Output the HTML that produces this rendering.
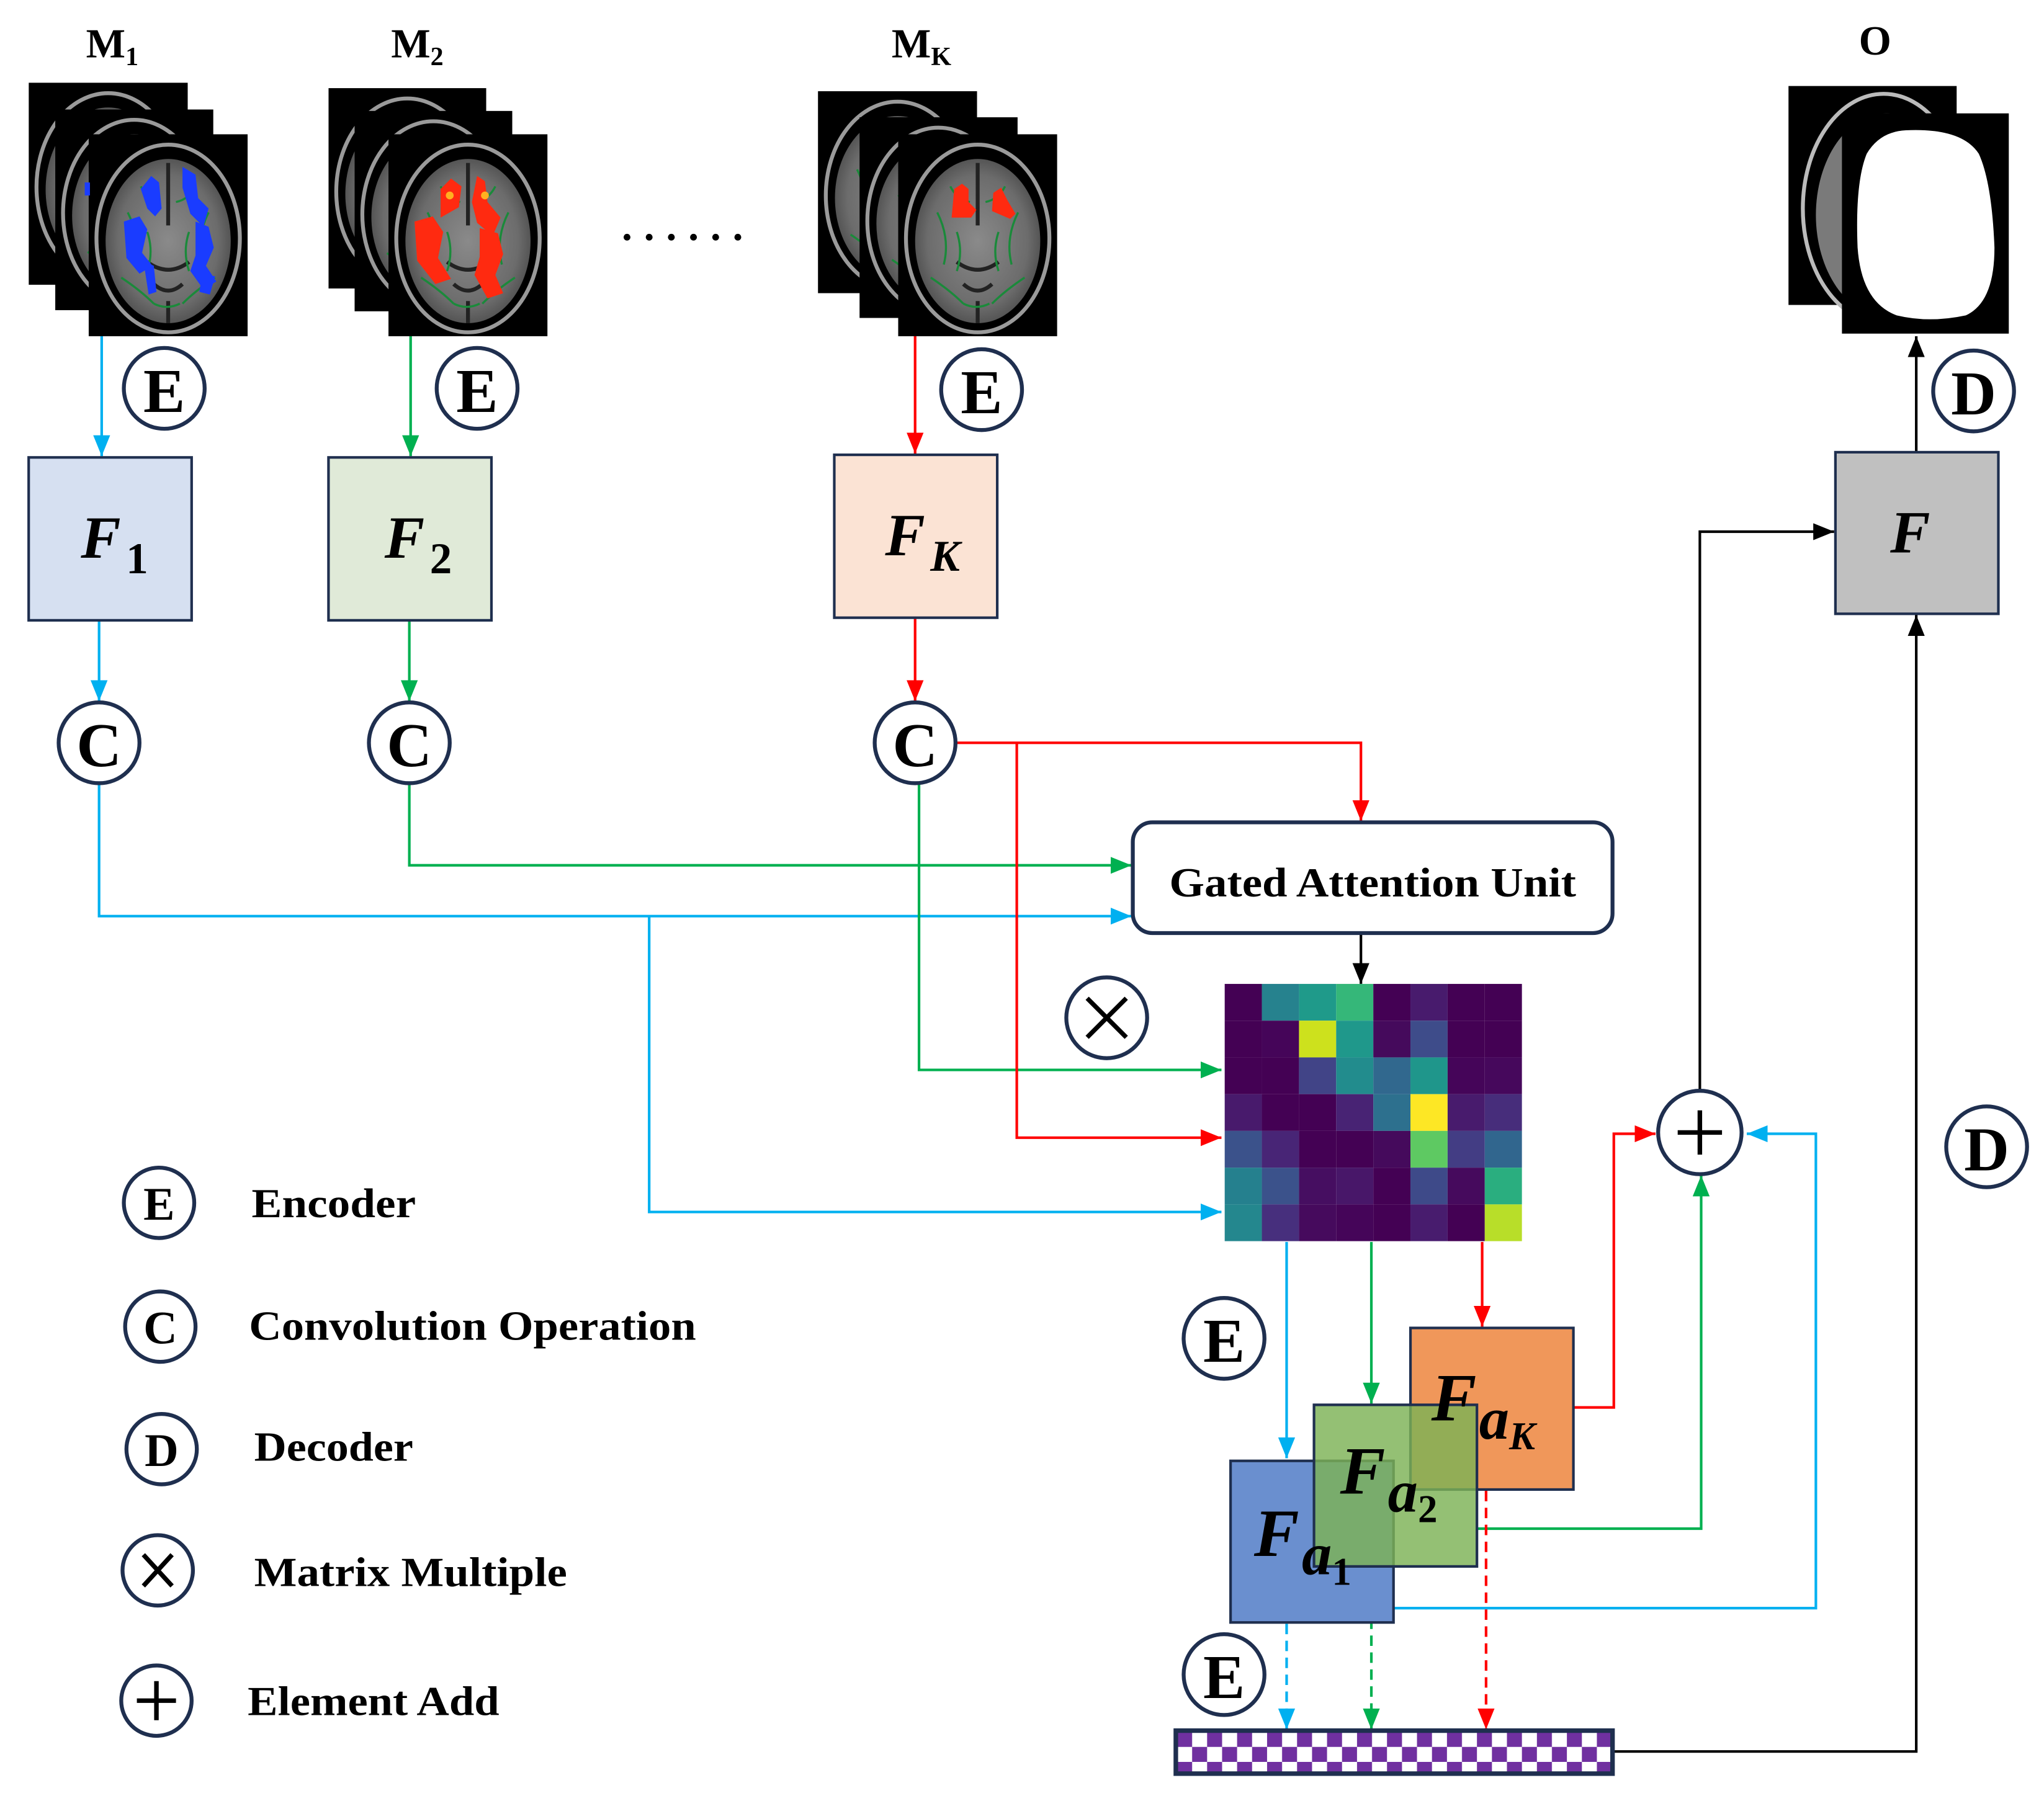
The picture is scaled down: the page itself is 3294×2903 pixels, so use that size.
<!DOCTYPE html>
<html><head><meta charset="utf-8"><style>html,body{margin:0;padding:0;background:#fff}svg{display:block}</style></head>
<body>
<svg xmlns="http://www.w3.org/2000/svg" width="3294" height="2903" viewBox="0 0 1568 1382" preserveAspectRatio="none" font-family="Liberation Serif, serif">
<defs>
<marker id="ab" viewBox="0 0 16 13" refX="16" refY="6.5" markerWidth="16" markerHeight="13" markerUnits="userSpaceOnUse" orient="auto"><path d="M0,0L16,6.5L0,13z" fill="#00b0f0"/></marker>
<marker id="ag" viewBox="0 0 16 13" refX="16" refY="6.5" markerWidth="16" markerHeight="13" markerUnits="userSpaceOnUse" orient="auto"><path d="M0,0L16,6.5L0,13z" fill="#00b050"/></marker>
<marker id="ar" viewBox="0 0 16 13" refX="16" refY="6.5" markerWidth="16" markerHeight="13" markerUnits="userSpaceOnUse" orient="auto"><path d="M0,0L16,6.5L0,13z" fill="#ff0000"/></marker>
<marker id="ak" viewBox="0 0 16 13" refX="16" refY="6.5" markerWidth="16" markerHeight="13" markerUnits="userSpaceOnUse" orient="auto"><path d="M0,0L16,6.5L0,13z" fill="#000"/></marker>
<pattern id="chk" x="903" y="1329" width="23" height="23" patternUnits="userSpaceOnUse">
<rect width="23" height="23" fill="#fff"/><rect width="11.5" height="11.5" fill="#7030a0"/><rect x="11.5" y="11.5" width="11.5" height="11.5" fill="#7030a0"/></pattern>
<radialGradient id="bg" cx="50%" cy="50%" r="50%"><stop offset="0" stop-color="#8a8a8a"/><stop offset="0.8" stop-color="#6c6c6c"/><stop offset="1" stop-color="#555"/></radialGradient>
<symbol id="brain" viewBox="0 0 122 155">
<rect width="122" height="155" fill="#000"/>
<ellipse cx="61" cy="80" rx="55" ry="72" fill="none" stroke="#9a9a9a" stroke-width="3"/>
<ellipse cx="61" cy="82" rx="48" ry="63" fill="url(#bg)"/>
<path d="M61,22 L61,70 M45,98 Q61,110 77,98 M50,115 Q61,125 72,115 M61,128 L61,145" stroke="#222" stroke-width="3" fill="none"/>
<path d="M30,60 q10,20 5,40 M92,60 q-10,20 -5,40 M25,110 q15,10 25,20 M97,110 q-15,10 -25,20 M40,40 q5,10 15,12 M82,40 q-5,10 -15,12 M45,75 q5,15 0,30 M77,75 q-5,15 0,30 M50,130 q10,5 20,0" stroke="#1a8a3a" stroke-width="1.6" fill="none"/>
</symbol>
</defs>

<g font-weight="bold" font-size="32" fill="#000">
<text x="66" y="44">M<tspan font-size="20" dy="6">1</tspan></text>
<text x="300" y="44">M<tspan font-size="20" dy="6">2</tspan></text>
<text x="684" y="44">M<tspan font-size="20" dy="6">K</tspan></text>
<text x="1426" y="42">O</text>
</g>

<use href="#brain" x="22" y="63" width="122" height="156"/>
<use href="#brain" x="42" y="84" width="122" height="154"/>
<use href="#brain" x="68" y="103" width="122" height="155"/>
<g fill="#1a3cff">
<path d="M108,145 l8,-10 6,5 2,20 -5,6 -6,-6z M140,128 l10,6 2,18 8,8 -4,14 -10,-10 -6,-20z M95,170 l12,-4 6,10 -4,18 8,10 -10,6 -10,-12z M150,170 l10,4 4,16 -6,14 8,12 -10,6 -10,-14 4,-12z M110,200 l8,4 2,20 -6,2z M155,210 l10,2 -4,14 -8,-2z"/>
<rect x="65" y="140" width="4" height="10"/>
</g>

<use href="#brain" x="252" y="67" width="121" height="155"/>
<use href="#brain" x="272" y="84" width="121" height="156"/>
<use href="#brain" x="298" y="103" width="122" height="155"/>
<g fill="#ff2a10">
<path d="M338,145 l8,-8 8,6 -2,16 -14,8z M366,135 l6,4 2,16 10,12 -6,14 -12,-10 -4,-16z M318,170 l14,-4 8,12 -4,20 10,16 -12,4 -14,-18z M368,175 l14,4 4,16 -6,16 6,14 -12,4 -10,-18 4,-14z"/>
</g>
<g fill="#ffb020"><circle cx="345" cy="150" r="3"/><circle cx="372" cy="150" r="3"/></g>

<use href="#brain" x="627" y="70" width="123" height="155"/>
<use href="#brain" x="659" y="90" width="122" height="154"/>
<use href="#brain" x="689" y="103" width="122" height="155"/>
<g fill="#ff2a10">
<path d="M732,145 l6,-4 5,4 0,10 6,6 -4,6 -15,0z M762,148 l6,-4 5,10 6,10 -4,4 -14,-6z"/>
</g>

<rect x="1372" y="66" width="129" height="168" fill="#000"/>
<ellipse cx="1445" cy="160" rx="62" ry="88" fill="none" stroke="#bbb" stroke-width="3"/>
<ellipse cx="1447" cy="165" rx="54" ry="78" fill="#7a7a7a"/>
<rect x="1413" y="87" width="128" height="169" fill="#000"/>
<path d="M1462,100 Q1505,98 1518,118 Q1528,140 1530,190 Q1530,232 1508,242 Q1480,248 1455,242 Q1428,232 1425,190 Q1423,140 1432,118 Q1442,101 1462,100z" fill="#fff"/>

<g fill="#000"><circle cx="481" cy="182" r="2.6"/><circle cx="498" cy="182" r="2.6"/><circle cx="515" cy="182" r="2.6"/><circle cx="532" cy="182" r="2.6"/><circle cx="549" cy="182" r="2.6"/><circle cx="566" cy="182" r="2.6"/></g>

<g fill="none" stroke-width="2">
<path d="M78,258V350" stroke="#00b0f0" marker-end="url(#ab)"/>
<path d="M315,258V350" stroke="#00b050" marker-end="url(#ag)"/>
<path d="M702,258V348" stroke="#ff0000" marker-end="url(#ar)"/>
<path d="M76,476V538" stroke="#00b0f0" marker-end="url(#ab)"/>
<path d="M314,476V538" stroke="#00b050" marker-end="url(#ag)"/>
<path d="M702,474V538" stroke="#ff0000" marker-end="url(#ar)"/>
<path d="M76,601V703H868" stroke="#00b0f0" marker-end="url(#ab)"/>
<path d="M498,703V930H937" stroke="#00b0f0" marker-end="url(#ab)"/>
<path d="M314,601V664H868" stroke="#00b050" marker-end="url(#ag)"/>
<path d="M705,601V821H937" stroke="#00b050" marker-end="url(#ag)"/>
<path d="M733,570H1044V630" stroke="#ff0000" marker-end="url(#ar)"/>
<path d="M780,570V873H937" stroke="#ff0000" marker-end="url(#ar)"/>
<path d="M1044,716V755" stroke="#000" marker-end="url(#ak)"/>
<path d="M987,953V1119" stroke="#00b0f0" marker-end="url(#ab)"/>
<path d="M1052,953V1077" stroke="#00b050" marker-end="url(#ag)"/>
<path d="M1137,953V1018" stroke="#ff0000" marker-end="url(#ar)"/>
<path d="M1207,1080H1238V870H1270" stroke="#ff0000" marker-end="url(#ar)"/>
<path d="M1133,1173H1305V902" stroke="#00b050" marker-end="url(#ag)"/>
<path d="M1069,1234H1393V870H1340" stroke="#00b0f0" marker-end="url(#ab)"/>
<path d="M1304,837V408H1407" stroke="#000" marker-end="url(#ak)"/>
<path d="M1237,1344H1470V472" stroke="#000" marker-end="url(#ak)"/>
<path d="M1470,347V258" stroke="#000" marker-end="url(#ak)"/>
<path d="M987,1246V1327" stroke="#00b0f0" stroke-dasharray="8,5" marker-end="url(#ab)"/>
<path d="M1052,1203V1327" stroke="#00b050" stroke-dasharray="8,5" marker-end="url(#ag)"/>
<path d="M1140,1144V1327" stroke="#ff0000" stroke-dasharray="8,5" marker-end="url(#ar)"/>
</g>

<g stroke="#1f2f4f" stroke-width="2">
<rect x="22" y="351" width="125" height="125" fill="#d6e0f1"/>
<rect x="252" y="351" width="125" height="125" fill="#e0ead8"/>
<rect x="640" y="349" width="125" height="125" fill="#fbe3d4"/>
<rect x="1408" y="347" width="125" height="124" fill="#c0c0c0"/>
</g>
<g font-weight="bold" font-style="italic" font-size="46" fill="#000">
<text x="62" y="428">F<tspan font-size="34" font-style="normal" dx="4" dy="12">1</tspan></text>
<text x="295" y="428">F<tspan font-size="34" font-style="normal" dx="4" dy="12">2</tspan></text>
<text x="679" y="426">F<tspan font-size="34" dx="4" dy="12">K</tspan></text>
<text x="1450" y="424">F</text>
</g>

<rect x="869" y="631" width="368" height="85" rx="15" fill="#fff" stroke="#1f2f4f" stroke-width="3"/>
<text x="1053" y="688" text-anchor="middle" font-weight="bold" font-size="32" textLength="312" lengthAdjust="spacingAndGlyphs">Gated Attention Unit</text>

<g transform="translate(939.5,755)">
<rect x="0" y="0" width="28.5" height="28.2" fill="#440154"/><rect x="28.5" y="0" width="28.5" height="28.2" fill="#26828e"/><rect x="57" y="0" width="28.5" height="28.2" fill="#1f9a8a"/><rect x="85.5" y="0" width="28.5" height="28.2" fill="#35b779"/><rect x="114" y="0" width="28.5" height="28.2" fill="#440154"/><rect x="142.5" y="0" width="28.5" height="28.2" fill="#481b6d"/><rect x="171" y="0" width="28.5" height="28.2" fill="#440154"/><rect x="199.5" y="0" width="28.5" height="28.2" fill="#440154"/>
<rect x="0" y="28.2" width="28.5" height="28.2" fill="#440154"/><rect x="28.5" y="28.2" width="28.5" height="28.2" fill="#450559"/><rect x="57" y="28.2" width="28.5" height="28.2" fill="#cde11d"/><rect x="85.5" y="28.2" width="28.5" height="28.2" fill="#1f988b"/><rect x="114" y="28.2" width="28.5" height="28.2" fill="#450a5c"/><rect x="142.5" y="28.2" width="28.5" height="28.2" fill="#3e4c8a"/><rect x="171" y="28.2" width="28.5" height="28.2" fill="#440154"/><rect x="199.5" y="28.2" width="28.5" height="28.2" fill="#440154"/>
<rect x="0" y="56.4" width="28.5" height="28.2" fill="#440154"/><rect x="28.5" y="56.4" width="28.5" height="28.2" fill="#440154"/><rect x="57" y="56.4" width="28.5" height="28.2" fill="#414487"/><rect x="85.5" y="56.4" width="28.5" height="28.2" fill="#228c8d"/><rect x="114" y="56.4" width="28.5" height="28.2" fill="#31688e"/><rect x="142.5" y="56.4" width="28.5" height="28.2" fill="#1f968b"/><rect x="171" y="56.4" width="28.5" height="28.2" fill="#450559"/><rect x="199.5" y="56.4" width="28.5" height="28.2" fill="#46085c"/>
<rect x="0" y="84.6" width="28.5" height="28.2" fill="#481a6c"/><rect x="28.5" y="84.6" width="28.5" height="28.2" fill="#440154"/><rect x="57" y="84.6" width="28.5" height="28.2" fill="#440154"/><rect x="85.5" y="84.6" width="28.5" height="28.2" fill="#482374"/><rect x="114" y="84.6" width="28.5" height="28.2" fill="#2d708e"/><rect x="142.5" y="84.6" width="28.5" height="28.2" fill="#fde725"/><rect x="171" y="84.6" width="28.5" height="28.2" fill="#481b6d"/><rect x="199.5" y="84.6" width="28.5" height="28.2" fill="#472d7b"/>
<rect x="0" y="112.8" width="28.5" height="28.2" fill="#3b528b"/><rect x="28.5" y="112.8" width="28.5" height="28.2" fill="#482576"/><rect x="57" y="112.8" width="28.5" height="28.2" fill="#440154"/><rect x="85.5" y="112.8" width="28.5" height="28.2" fill="#440154"/><rect x="114" y="112.8" width="28.5" height="28.2" fill="#450a5c"/><rect x="142.5" y="112.8" width="28.5" height="28.2" fill="#5ec962"/><rect x="171" y="112.8" width="28.5" height="28.2" fill="#433d84"/><rect x="199.5" y="112.8" width="28.5" height="28.2" fill="#31668e"/>
<rect x="0" y="141" width="28.5" height="28.2" fill="#25808e"/><rect x="28.5" y="141" width="28.5" height="28.2" fill="#3b528b"/><rect x="57" y="141" width="28.5" height="28.2" fill="#460e61"/><rect x="85.5" y="141" width="28.5" height="28.2" fill="#481769"/><rect x="114" y="141" width="28.5" height="28.2" fill="#440154"/><rect x="142.5" y="141" width="28.5" height="28.2" fill="#3e4a89"/><rect x="171" y="141" width="28.5" height="28.2" fill="#460a5d"/><rect x="199.5" y="141" width="28.5" height="28.2" fill="#2aae7f"/>
<rect x="0" y="169.2" width="28.5" height="28.2" fill="#24878e"/><rect x="28.5" y="169.2" width="28.5" height="28.2" fill="#472f7d"/><rect x="57" y="169.2" width="28.5" height="28.2" fill="#460a5d"/><rect x="85.5" y="169.2" width="28.5" height="28.2" fill="#450559"/><rect x="114" y="169.2" width="28.5" height="28.2" fill="#440154"/><rect x="142.5" y="169.2" width="28.5" height="28.2" fill="#481c6e"/><rect x="171" y="169.2" width="28.5" height="28.2" fill="#440154"/><rect x="199.5" y="169.2" width="28.5" height="28.2" fill="#b8de29"/>
</g>

<g stroke="#1f2f4f" stroke-width="2">
<rect x="1082" y="1019" width="125" height="124" fill="#f0975a"/>
<rect x="944" y="1121" width="125" height="124" fill="#6a8fcf"/>
<rect x="1008" y="1078" width="125" height="124" fill="#7db256" fill-opacity="0.82"/>
</g>
<g font-weight="bold" font-style="italic" fill="#000">
<text x="1098" y="1090" font-size="52">F<tspan font-size="46" dx="2" dy="14">a</tspan><tspan font-size="30" dy="8">K</tspan></text>
<text x="1028" y="1146" font-size="52">F<tspan font-size="46" dx="2" dy="14">a</tspan><tspan font-size="30" font-style="normal" dy="8">2</tspan></text>
<text x="962" y="1194" font-size="52">F<tspan font-size="46" dx="2" dy="14">a</tspan><tspan font-size="30" font-style="normal" dy="8">1</tspan></text>
</g>

<rect x="902" y="1328" width="335" height="33" fill="url(#chk)" stroke="#1f2f4f" stroke-width="3.5"/>

<g fill="#fff" stroke="#1f2f4f" stroke-width="3">
<circle cx="126" cy="298" r="31"/><circle cx="366" cy="298" r="31"/><circle cx="753" cy="299" r="31"/><circle cx="1514" cy="300" r="31"/>
<circle cx="76" cy="570" r="31"/><circle cx="314" cy="570" r="31"/><circle cx="702" cy="570" r="31"/>
<circle cx="849" cy="781" r="31"/><circle cx="1304" cy="869" r="32"/><circle cx="1524" cy="880" r="31"/>
<circle cx="939" cy="1027" r="31"/><circle cx="939" cy="1285" r="31"/>
<circle cx="122" cy="923" r="27"/><circle cx="123" cy="1018" r="27"/><circle cx="124" cy="1112" r="27"/><circle cx="121" cy="1205" r="27"/><circle cx="120" cy="1305" r="27"/>
</g>
<g font-weight="bold" font-size="48" text-anchor="middle" fill="#000">
<text x="126" y="316">E</text><text x="366" y="316">E</text><text x="753" y="317">E</text><text x="1514" y="318">D</text>
<text x="76" y="588">C</text><text x="314" y="588">C</text><text x="702" y="588">C</text>
<text x="1524" y="898">D</text><text x="939" y="1045">E</text><text x="939" y="1303">E</text>
</g>
<g stroke="#000" stroke-width="3.5" fill="none">
<path d="M834,766L864,796M864,766L834,796"/>
<path d="M1304,852V886M1287,869H1321"/>
<path d="M110,1193L132,1217M132,1193L110,1217"/>
<path d="M120,1290V1320M105,1305H135"/>
</g>
<g font-weight="bold" font-size="36" text-anchor="middle" fill="#000">
<text x="122" y="936">E</text><text x="123" y="1031">C</text><text x="124" y="1125">D</text>
</g>

<g font-weight="bold" font-size="32" fill="#000">
<text x="193" y="934" textLength="126" lengthAdjust="spacingAndGlyphs">Encoder</text>
<text x="191" y="1028" textLength="343" lengthAdjust="spacingAndGlyphs">Convolution Operation</text>
<text x="195" y="1121" textLength="122" lengthAdjust="spacingAndGlyphs">Decoder</text>
<text x="195" y="1217" textLength="240" lengthAdjust="spacingAndGlyphs">Matrix Multiple</text>
<text x="190" y="1316" textLength="193" lengthAdjust="spacingAndGlyphs">Element Add</text>
</g>
</svg>
</body></html>
